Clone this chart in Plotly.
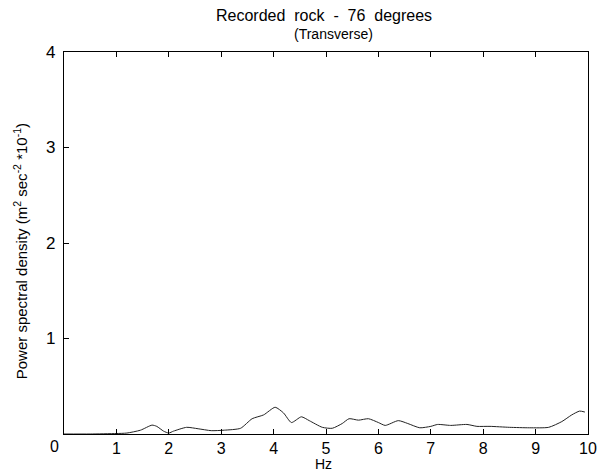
import plotly.graph_objects as go

# Frequency (Hz) and power spectral density (m^2 sec^-2 *10^-1)
freq = [0.0, 0.5, 1.0, 1.2, 1.46, 1.68, 1.77, 1.9, 2.0, 2.09, 2.34, 2.56, 2.81, 3.06, 3.37,
        3.59, 3.81, 4.03, 4.19, 4.34, 4.53, 4.68, 4.93, 5.12, 5.31, 5.44, 5.62, 5.81, 6.0,
        6.13, 6.38, 6.56, 6.79, 7.0, 7.13, 7.38, 7.69, 7.88, 8.13, 8.5, 8.88, 9.25, 9.5,
        9.69, 9.84, 9.94]
psd = [0.0, 0.0, 0.005, 0.01, 0.04, 0.093, 0.08, 0.03, 0.01, 0.03, 0.07, 0.055, 0.035, 0.04, 0.06,
       0.16, 0.2, 0.28, 0.22, 0.12, 0.18, 0.14, 0.07, 0.06, 0.11, 0.16, 0.145, 0.16, 0.12,
       0.09, 0.14, 0.11, 0.065, 0.08, 0.1, 0.09, 0.1, 0.08, 0.08, 0.07, 0.065, 0.07, 0.13,
       0.2, 0.24, 0.23]

x_ticks = [1, 2, 3, 4, 5, 6, 7, 8, 9, 10]
y_ticks = [1, 2, 3, 4]
origin_label = "0"

title_line1 = "Recorded\u00a0 rock\u00a0 -\u00a0 76\u00a0 degrees"
title_line2 = "(Transverse)"
x_title = "Hz"
y_title = "Power spectral density (m<sup>2</sup> sec<sup>-2</sup> *10<sup>-1</sup>)"

FONT = "Liberation Sans, Arial, sans-serif"

fig = go.Figure()
fig.add_trace(go.Scatter(x=freq, y=psd, mode="lines",
                         line=dict(color="#222", width=1, shape="spline", smoothing=0.6),
                         hoverinfo="skip", showlegend=False))

fig.update_layout(
    width=609, height=476,
    margin=dict(l=64, r=13, t=52, b=42),
    paper_bgcolor="white", plot_bgcolor="white",
    font=dict(family=FONT, color="black", size=15),
    xaxis=dict(range=[0, 10], tickvals=x_ticks, ticks="inside", ticklen=5, tickcolor="black",
               showline=True, linecolor="black", linewidth=1.3, mirror="ticks", showgrid=False,
               zeroline=False, tickfont=dict(size=16), ticklabelstandoff=0),
    yaxis=dict(range=[0, 4], tickvals=y_ticks, ticks="inside", ticklen=5,
               tickcolor="black", showline=True, linecolor="black", linewidth=1.3, mirror=True,
               showgrid=False, zeroline=False, tickfont=dict(size=17), ticklabelstandoff=4),
)

# titles
fig.add_annotation(xref="paper", yref="paper", x=0.496, y=1.096, text=title_line1, showarrow=False,
                   xanchor="center", yanchor="middle", font=dict(size=16, family=FONT))
fig.add_annotation(xref="paper", yref="paper", x=0.515, y=1.046, text=title_line2, showarrow=False,
                   xanchor="center", yanchor="middle", font=dict(size=14, family=FONT))
fig.add_annotation(xref="paper", yref="paper", x=0.496, y=0, yshift=-40, text=x_title, showarrow=False,
                   xanchor="center", yanchor="bottom", font=dict(size=14, family=FONT))
fig.add_annotation(xref="paper", yref="paper", x=-0.083, y=0.477, text=y_title, showarrow=False,
                   textangle=-90, xanchor="center", yanchor="middle", font=dict(size=15, family=FONT))
# shared origin label
fig.add_annotation(x=0, y=0, xref="x", yref="y", text=origin_label, showarrow=False,
                   xanchor="center", yanchor="middle", xshift=-10, yshift=-12,
                   font=dict(size=16, family=FONT))

fig.write_html("out.html")
